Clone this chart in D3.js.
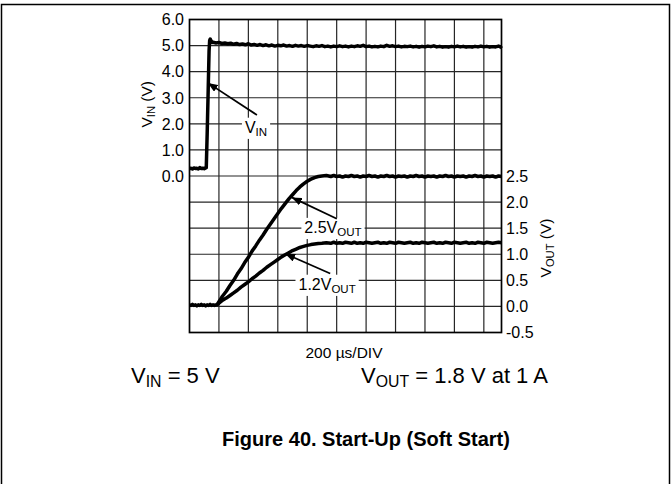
<!DOCTYPE html>
<html>
<head>
<meta charset="utf-8">
<script src="https://cdn.jsdelivr.net/npm/d3@7"></script>
<style>
  body { margin: 0; background: #fff; }
  svg { display: block; }
  text { font-family: "Liberation Sans", Arial, Helvetica, sans-serif; fill: #000; }
</style>
</head>
<body>
<svg id="chart" width="671" height="484"></svg>
<script>
// Time base: 200 µs per division, time in µs
const timeDomain = [0, 2120];
const timeGrid = [0, 200, 400, 600, 800, 1000, 1200, 1400, 1600, 1800, 2000];

// Left axis (input voltage) and right axis (output voltage)
const vinTicks = [0, 1, 2, 3, 4, 5, 6];
const vinTickLabels = ["0.0", "1.0", "2.0", "3.0", "4.0", "5.0", "6.0"];
const voutTicks = [-0.5, 0, 0.5, 1, 1.5, 2, 2.5];
const voutTickLabels = ["-0.5", "0.0", "0.5", "1.0", "1.5", "2.0", "2.5"];

// Input voltage trace [t µs, V]
const vinTrace = [
  [0,0.28],[10,0.30],[20,0.27],[30,0.31],[40,0.29],[50,0.30],[60,0.27],[70,0.32],[80,0.29],[90,0.30],
  [100,0.28],[110,0.31],[114,0.32],[120,1.6],[127,3.3],[133,4.8],[137,5.20],[141,5.25],[147,5.18],[153,5.12],
  [160,5.13],[180,5.10],[200,5.12],[220,5.08],[240,5.10],[260,5.07],[280,5.09],[300,5.05],[320,5.08],[340,5.04],
  [360,5.06],[380,5.03],[400,5.07],[420,5.02],[440,5.04],[460,5.01],[480,5.04],[500,5.00],[520,5.03],[540,4.99],
  [560,5.02],[580,4.98],[600,5.01],[620,4.99],[640,5.02],[660,4.98],[680,5.00],[700,4.97],[720,5.01],[740,4.98],
  [760,5.00],[780,4.97],[800,5.00],[820,4.98],[840,4.96],[860,4.99],[880,4.97],[900,5.00],[920,4.96],[940,4.98],
  [960,4.95],[980,4.98],[1000,4.96],[1020,4.99],[1040,4.96],[1060,4.98],[1080,4.95],[1100,4.98],[1120,4.96],[1140,4.99],
  [1160,4.97],[1180,5.01],[1200,4.96],[1220,4.98],[1240,4.95],[1260,4.97],[1280,4.95],[1300,4.98],[1320,4.96],[1340,5.01],
  [1360,4.97],[1380,4.99],[1400,4.96],[1420,4.98],[1440,4.95],[1460,4.97],[1480,4.96],[1500,4.98],[1520,4.95],[1540,4.97],
  [1560,4.94],[1580,4.97],[1600,4.95],[1620,4.98],[1640,4.96],[1660,4.99],[1680,4.95],[1700,4.97],[1720,4.94],[1740,4.96],
  [1760,4.94],[1780,4.97],[1800,4.95],[1820,4.98],[1840,4.95],[1860,4.97],[1880,4.94],[1900,4.96],[1920,4.94],[1940,4.97],
  [1960,4.95],[1980,4.98],[2000,4.95],[2020,4.97],[2040,4.94],[2060,4.96],[2080,4.95],[2100,4.98],[2112,4.96],[2120,4.90]
];

// Output trace, 2.5 V scaled channel [t µs, V]
const vout25Trace = [
  [0,0.03],[10,0.02],[20,0.04],[30,0.02],[40,0.03],[50,0.01],[60,0.03],[70,0.02],[80,0.04],[90,0.02],
  [100,0.03],[110,0.01],[120,0.03],[130,0.02],[140,0.04],[150,0.02],[160,0.03],[170,0.02],[180,0.03],[186,0.03],
  [200,0.09],[225,0.20],[250,0.29],[275,0.40],[300,0.50],[325,0.62],[350,0.72],[375,0.84],[400,0.94],[425,1.06],
  [450,1.16],[475,1.27],[500,1.37],[525,1.48],[550,1.58],[575,1.68],[600,1.78],[625,1.88],[650,1.97],[675,2.06],
  [700,2.14],[725,2.22],[750,2.29],[775,2.35],[800,2.40],[825,2.44],[850,2.47],[875,2.49],[900,2.50],[930,2.51],
  [960,2.49],[980,2.51],[1000,2.49],[1020,2.50],[1040,2.48],[1060,2.50],[1080,2.49],[1100,2.51],[1120,2.49],[1140,2.50],
  [1160,2.48],[1180,2.50],[1200,2.49],[1220,2.51],[1240,2.49],[1260,2.50],[1280,2.48],[1300,2.50],[1320,2.49],[1340,2.51],
  [1360,2.49],[1380,2.50],[1400,2.48],[1420,2.50],[1440,2.49],[1460,2.50],[1480,2.48],[1500,2.50],[1520,2.49],[1540,2.51],
  [1560,2.49],[1580,2.50],[1600,2.48],[1620,2.50],[1640,2.49],[1660,2.50],[1680,2.48],[1700,2.50],[1720,2.49],[1740,2.51],
  [1760,2.49],[1780,2.50],[1800,2.48],[1820,2.50],[1840,2.49],[1860,2.50],[1880,2.48],[1900,2.50],[1920,2.49],[1940,2.51],
  [1960,2.49],[1980,2.50],[2000,2.48],[2020,2.50],[2040,2.49],[2060,2.50],[2080,2.48],[2100,2.50],[2120,2.49]
];

// Output trace, 1.2 V scaled channel [t µs, V]
const vout12Trace = [
  [186,0.03],[200,0.06],[225,0.12],[250,0.16],[275,0.21],[300,0.26],[325,0.31],[350,0.37],[375,0.42],[400,0.47],
  [425,0.53],[450,0.58],[475,0.64],[500,0.69],[525,0.75],[550,0.80],[575,0.85],[600,0.90],[625,0.95],[650,0.99],
  [675,1.03],[700,1.07],[725,1.10],[750,1.13],[775,1.15],[800,1.17],[825,1.185],[850,1.195],[875,1.205],[900,1.21],
  [930,1.22],[960,1.21],[980,1.23],[1000,1.21],[1020,1.22],[1040,1.21],[1060,1.23],[1080,1.22],[1100,1.21],[1120,1.23],
  [1140,1.21],[1160,1.22],[1180,1.21],[1200,1.23],[1220,1.22],[1240,1.21],[1260,1.22],[1280,1.23],[1300,1.21],[1320,1.22],
  [1340,1.21],[1360,1.23],[1380,1.22],[1400,1.21],[1420,1.23],[1440,1.22],[1460,1.21],[1480,1.22],[1500,1.23],[1520,1.21],
  [1540,1.22],[1560,1.21],[1580,1.23],[1600,1.22],[1620,1.21],[1640,1.22],[1660,1.23],[1680,1.21],[1700,1.22],[1720,1.21],
  [1740,1.23],[1760,1.22],[1780,1.21],[1800,1.23],[1820,1.22],[1840,1.21],[1860,1.22],[1880,1.23],[1900,1.21],[1920,1.22],
  [1940,1.21],[1960,1.23],[1980,1.22],[2000,1.21],[2020,1.23],[2040,1.22],[2060,1.21],[2080,1.22],[2100,1.23],[2120,1.22]
];

// Trace callouts: arrow tip, arrow tail and label anchor in data units
const callouts = [
  { axis: "vin",  main: "V",    sub: "IN",  tip: [125, 3.57], tail: [458, 2.34], label: [452, 1.66] },
  { axis: "vout", main: "2.5V", sub: "OUT", tip: [695, 2.09], tail: [1001, 1.68], label: [975, 1.41] },
  { axis: "vout", main: "1.2V", sub: "OUT", tip: [650, 1.01], tail: [956, 0.63], label: [935, 0.32] }
];

const svg = d3.select("#chart");

const plot = { left: 189.5, right: 501.5, top: 19.5, bottom: 332.5 };
const x = d3.scaleLinear().domain(timeDomain).range([plot.left, plot.right]);
const yVin = d3.scaleLinear().domain([-6, 6]).range([plot.bottom, plot.top]);
const yVout = d3.scaleLinear().domain([-0.5, 5.5]).range([plot.bottom, plot.top]);

// Page frame
svg.append("path")
  .attr("d", "M1.5,484 V4.5 H669.5 V484")
  .attr("fill", "none").attr("stroke", "#000").attr("stroke-width", 1.5);

// Grid
const grid = svg.append("g");
grid.selectAll("line.v").data(timeGrid.slice(1)).join("line")
  .attr("x1", d => x(d)).attr("x2", d => x(d))
  .attr("y1", plot.top).attr("y2", plot.bottom)
  .attr("stroke", "#262626").attr("stroke-width", 1.2);
grid.selectAll("line.h").data(d3.range(-5, 6)).join("line")
  .attr("x1", plot.left).attr("x2", plot.right)
  .attr("y1", d => yVin(d)).attr("y2", d => yVin(d))
  .attr("stroke", "#262626").attr("stroke-width", 1.2);
svg.append("rect")
  .attr("x", plot.left).attr("y", plot.top)
  .attr("width", plot.right - plot.left).attr("height", plot.bottom - plot.top)
  .attr("fill", "none").attr("stroke", "#000").attr("stroke-width", 1.7);

// Tick labels
const tickFont = 16;
svg.append("g").selectAll("text").data(vinTicks).join("text")
  .attr("x", 184).attr("y", d => yVin(d)).attr("dy", "0.36em")
  .attr("text-anchor", "end").attr("font-size", tickFont)
  .text((d, i) => vinTickLabels[i]);
svg.append("g").selectAll("text").data(voutTicks).join("text")
  .attr("x", 506).attr("y", d => yVout(d)).attr("dy", "0.36em")
  .attr("text-anchor", "start").attr("font-size", tickFont)
  .text((d, i) => voutTickLabels[i]);

// Axis titles with subscripts
function subLabel(sel, main, sub, rest, size) {
  sel.append("tspan").text(main);
  sel.append("tspan").attr("font-size", size * 0.72).attr("dy", size * 0.2).text(sub);
  if (rest) sel.append("tspan").attr("dy", -size * 0.2).text(rest);
}
const vinTitle = svg.append("text")
  .attr("transform", `translate(152,${yVin(2.75)}) rotate(-90)`)
  .attr("text-anchor", "middle").attr("font-size", 15.5);
subLabel(vinTitle, "V", "IN", " (V)", 15.5);
const voutTitle = svg.append("text")
  .attr("transform", `translate(551,${yVout(1.12)}) rotate(-90)`)
  .attr("text-anchor", "middle").attr("font-size", 15.5);
subLabel(voutTitle, "V", "OUT", " (V)", 15.5);

// Traces
const traceLine = (ys) => d3.line().x(d => x(d[0])).y(d => ys(d[1]));
const traces = [
  { data: vinTrace, scale: yVin },
  { data: vout25Trace, scale: yVout },
  { data: vout12Trace, scale: yVout }
];
svg.append("g").selectAll("path").data(traces).join("path")
  .attr("d", d => traceLine(d.scale)(d.data))
  .attr("fill", "none").attr("stroke", "#000")
  .attr("stroke-width", 3.5).attr("stroke-linejoin", "round").attr("stroke-linecap", "butt");

// Callouts
svg.append("defs").append("marker")
  .attr("id", "arrowhead").attr("viewBox", "0 0 10 8")
  .attr("refX", 10).attr("refY", 4)
  .attr("markerWidth", 10).attr("markerHeight", 8)
  .attr("markerUnits", "userSpaceOnUse").attr("orient", "auto")
  .append("path").attr("d", "M0,0 L10,4 L0,8 Z").attr("fill", "#000");

const calloutG = svg.append("g");
callouts.forEach(c => {
  const ys = c.axis === "vin" ? yVin : yVout;
  const g = calloutG.append("g");
  const box = g.append("rect").attr("fill", "#fff");
  const t = g.append("text")
    .attr("x", x(c.label[0])).attr("y", ys(c.label[1]))
    .attr("text-anchor", "middle").attr("font-size", 16);
  subLabel(t, c.main, c.sub, null, 16);
  const bb = t.node().getBBox();
  box.attr("x", bb.x - 3).attr("y", bb.y - 1).attr("width", bb.width + 6).attr("height", bb.height + 2);
  g.append("line")
    .attr("x1", x(c.tail[0])).attr("y1", ys(c.tail[1]))
    .attr("x2", x(c.tip[0])).attr("y2", ys(c.tip[1]))
    .attr("stroke", "#000").attr("stroke-width", 1.7)
    .attr("marker-end", "url(#arrowhead)");
});

// Captions
svg.append("text").attr("x", 344).attr("y", 358)
  .attr("text-anchor", "middle").attr("font-size", 15.5).text("200 µs/DIV");
const vinNote = svg.append("text").attr("x", 131).attr("y", 383).attr("font-size", 22);
subLabel(vinNote, "V", "IN", " = 5 V", 22);
const voutNote = svg.append("text").attr("x", 361).attr("y", 383).attr("font-size", 22);
subLabel(voutNote, "V", "OUT", " = 1.8 V at 1 A", 22);
svg.append("text").attr("x", 366).attr("y", 446)
  .attr("text-anchor", "middle").attr("font-size", 20).attr("font-weight", "bold")
  .text("Figure 40. Start-Up (Soft Start)");
</script>
</body>
</html>
